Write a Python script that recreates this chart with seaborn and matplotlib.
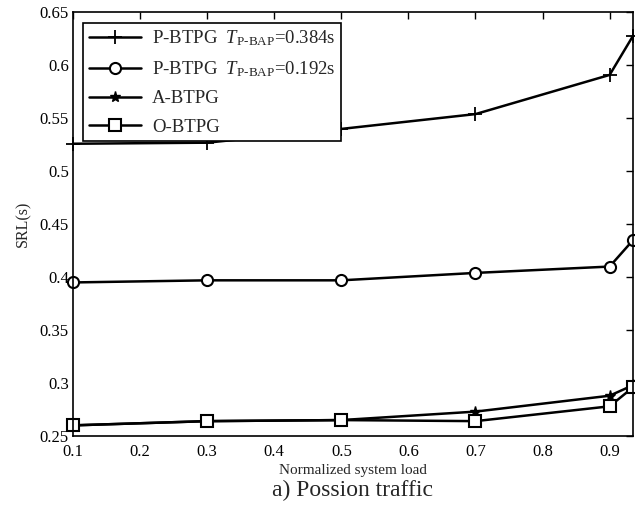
import matplotlib
matplotlib.use("Agg")
import matplotlib.pyplot as plt
import numpy as np
import pandas as pd
import seaborn as sns

# values
load = [0.1, 0.3, 0.5, 0.7, 0.9, 0.935]
p_btpg_384 = [0.526, 0.527, 0.540, 0.554, 0.591, 0.628]
p_btpg_192 = [0.395, 0.397, 0.397, 0.404, 0.410, 0.435]
a_btpg = [0.260, 0.264, 0.265, 0.273, 0.288, 0.298]
o_btpg = [0.260, 0.264, 0.265, 0.264, 0.278, 0.296]

labels = [r'P-BTPG  $T_{\mathrm{P\text{-}BAP}}$=0.384s',
          r'P-BTPG  $T_{\mathrm{P\text{-}BAP}}$=0.192s',
          'A-BTPG',
          'O-BTPG']
series = [p_btpg_384, p_btpg_192, a_btpg, o_btpg]

sns.set_style("white")
plt.rcParams['font.family'] = ['Liberation Serif', 'DejaVu Serif']
plt.rcParams['mathtext.fontset'] = 'custom'
plt.rcParams['mathtext.rm'] = 'Liberation Serif'
plt.rcParams['mathtext.it'] = 'Liberation Serif:italic'

df = pd.DataFrame({
    "load": np.tile(load, len(series)),
    "srl": np.concatenate(series),
    "scheme": np.repeat(labels, len(load)),
})

fig = plt.figure(figsize=(6.35, 5.19), dpi=100)
ax = fig.add_axes([0.115, 0.16, 0.882, 0.816])

marker_style = {
    labels[0]: dict(marker='+', markersize=10, markeredgewidth=1.3, markerfacecolor='black'),
    labels[1]: dict(marker='o', markersize=8, markeredgewidth=1.5, markerfacecolor='white'),
    labels[2]: dict(marker='*', markersize=8, markeredgewidth=1.0, markerfacecolor='black'),
    labels[3]: dict(marker='s', markersize=8, markeredgewidth=1.5, markerfacecolor='white'),
}
for lab in labels:
    sns.lineplot(data=df[df["scheme"] == lab], x="load", y="srl", ax=ax,
                 color='black', linewidth=1.8, label=lab,
                 markeredgecolor='black', clip_on=False, **marker_style[lab])

ax.set_xlim(0.1, 0.935)
ax.set_ylim(0.25, 0.65)
ax.set_xticks(np.arange(0.1, 0.91, 0.1))
ax.set_xticklabels(['0.1', '0.2', '0.3', '0.4', '0.5', '0.6', '0.7', '0.8', '0.9'])
yt = np.arange(0.25, 0.651, 0.05)
ax.set_yticks(yt)
ax.set_yticklabels(['0.25', '0.3', '0.35', '0.4', '0.45', '0.5', '0.55', '0.6', '0.65'])
ax.tick_params(direction='in', top=True, right=True, length=5, width=1,
               labelsize=12, colors='black', pad=3)
ax.tick_params(axis='x', pad=6)
for sp in ax.spines.values():
    sp.set_color('black')
    sp.set_linewidth(1.2)

ax.set_xlabel("Normalized system load", fontsize=11, labelpad=3)
ax.set_ylabel("SRL(s)", fontsize=11.5, labelpad=6)

leg = ax.legend(loc='upper left', fontsize=13.5, handlelength=2.8, frameon=True,
                fancybox=False, edgecolor='black', framealpha=1,
                borderaxespad=0.55, labelspacing=0.6, handletextpad=0.55,
                borderpad=0.3)
leg.get_frame().set_linewidth(1.2)

fig.text(0.555, 0.055, "a) Possion traffic", fontsize=17, ha='center', va='center')

fig.savefig("out.png", dpi=100)
